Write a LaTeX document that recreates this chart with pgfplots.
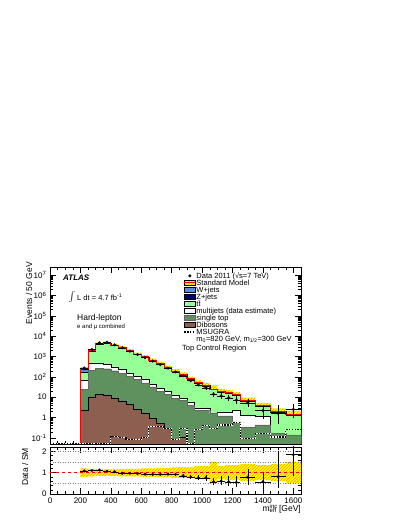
\documentclass[border=0pt]{standalone}
\usepackage{fontspec}
\setmainfont{Liberation Sans}
\usepackage{pgfplots}
\usepackage{pgfplotstable}
\pgfplotsset{compat=1.18}
\usepgfplotslibrary{fillbetween}
\usetikzlibrary{patterns}

\definecolor{wjets}{RGB}{90,140,230}
\definecolor{zjets}{RGB}{0,0,110}
\definecolor{ttbar}{RGB}{150,255,150}
\definecolor{stop}{RGB}{95,145,95}
\definecolor{dib}{RGB}{140,95,80}
\definecolor{bandy}{RGB}{255,255,0}
\definecolor{bando}{RGB}{255,160,0}

% cumulative stack tops (bin left edges), u = relative SM uncertainty
\pgfplotstableread{
x    D      S      M      T      Z      SM     u
200  0.0001 0.0001 0.0001 0.0001 0.0001 0.0001 0
200  2.3    24     69     160    165    250    0.20
250  10.5   210    455    1900   1920   2000   0.18
300  13.5   270    480    3990   4030   4200   0.15
350  12     250    410    4465   4512   4700   0.15
400  9.3    200    310    3420   3456   3600   0.15
450  6.6    150    230    2612   2640   2750   0.17
500  4.6    105    150    1795   1814   1890   0.18
550  2.5    75     110    1235   1248   1300   0.18
600  1.6    50     75     912    922    960    0.20
650  0.9    32     45     617    624    650    0.20
700  0.5    20     28     418    422    440    0.22
750  0.3    14     19     275    278    290    0.22
800  0.085  9      13     180    182    190    0.25
850  0.11   7      9      126    128    133    0.25
900  0.001  4.1    5.9    78     79     82     0.25
950  0.001  2.3    3.0    49.4   49.9   52     0.30
1000 0.001  2.3    2.8    36.1   36.5   38     0.30
1050 0.001  1.55   1.6    23.75  24     25     0.50
1100 0.001  1.2    1.9    18.5   18.7   19.5   0.30
1150 0.001  1.2    1.9    15.5   15.6   16.3   0.35
1200 0.001  0.62   2.3    12.35  12.5   13     0.35
1250 0.001  0.35   1.3    6.37   6.43   6.7    0.40
1350 0.001  0.43   1.1    3.7    3.74   3.9    0.35
1450 0.001  0.17   0.17   1.9    1.92   2      0.40
1550 0.001  0.14   0.14   1.33   1.34   1.4    0.50
1650 0.001  0.14   0.14   1.33   1.34   1.4    0.50
1650 0.0001 0.0001 0.0001 0.0001 0.0001 0.0001 0
}\stack

\pgfplotstableread{
x    m
0    0.0505
200  0.0505
250  0.0505
300  0.0505
350  0.0505
400  0.12
450  0.10
500  0.08
550  0.08
600  0.10
650  0.35
700  0.35
750  0.30
800  0.08
850  0.30
900  0.0505
950  0.25
1000 0.40
1050 0.30
1100 0.43
1150 0.43
1200 0.57
1250 0.095
1350 0.16
1450 0.11
1550 0.25
1650 0.25
}\msugra

\pgfplotstableread{
x    ex  y     eyp   eym
225  25  270   16    16
275  25  2200  47    47
325  25  4700  69    69
375  25  5030  71    71
425  25  3740  61    61
475  25  2670  52    52
525  25  1830  43    43
575  25  1250  35    35
625  25  890   30    30
675  25  600   25    25
725  25  405   20    20
775  25  270   16    16
825  25  175   13    13
875  25  113   10.6  10.6
925  25  65    8     8
975  25  40    6.3   6.3
1025 25  29    5.4   5.4
1075 25  14    4.8   3.7
1125 25  11.7  4.5   3.4
1175 25  9.3   4.2   3.0
1225 25  7.2   3.8   2.7
1300 50  5.3   2.4   2.0
1400 50  2.2   1.9   1.4
1500 50  1.6   2.5   1.1
1600 50  2.5   1.9   1.5
}\data

\pgfplotstableread{
x    ex  r     eyp   eym
225  25  1.08  0.064 0.064
275  25  1.10  0.024 0.024
325  25  1.12  0.016 0.016
375  25  1.07  0.015 0.015
425  25  1.04  0.017 0.017
475  25  0.97  0.019 0.019
525  25  0.97  0.023 0.023
575  25  0.96  0.027 0.027
625  25  0.93  0.031 0.031
675  25  0.92  0.038 0.038
725  25  0.92  0.045 0.045
775  25  0.93  0.055 0.055
825  25  0.92  0.068 0.068
875  25  0.85  0.080 0.080
925  25  0.79  0.10  0.10
975  25  0.76  0.12  0.12
1025 25  0.76  0.14  0.14
1075 25  0.57  0.19  0.15
1125 25  0.60  0.23  0.17
1175 25  0.57  0.26  0.18
1225 25  0.55  0.29  0.21
1300 50  0.79  0.40  0.35
1400 50  0.57  0.45  0.37
1500 50  0.81  1.20  0.55
1600 50  1.84  1.30  1.00
}\ratio

\pgfplotsset{
  rootax/.style={
    scale only axis, width=251pt, anchor=south west,
    xmin=0, xmax=1650,
    tick align=inside,
    major tick length=6pt, minor tick length=3pt,
    every tick/.style={black, line width=0.4pt},
    axis line style={line width=0.5pt},
    tick label style={font=\fontsize{8}{9}\selectfont},
    /pgf/number format/assume math mode=true,
    /pgf/number format/1000 sep={},
    xtick={0,200,...,1600},
    minor x tick num=3,
    xtick pos=both, ytick pos=both,
  },
  hist/.style={const plot mark left, line width=0.4pt, draw=black, forget plot},
}

\begin{document}
\begin{tikzpicture}

\begin{axis}[rootax,
  at={(50pt,83pt)}, height=177pt,
  ymode=log, ymin=0.05, ymax=2.5e7, log origin=infty,
  xticklabels={},
  ytick={0.1,1,10,100,1000,10000,100000,1000000,10000000},
  yticklabels={10\textsuperscript{-1},1,10,10\textsuperscript{2},10\textsuperscript{3},10\textsuperscript{4},10\textsuperscript{5},10\textsuperscript{6},10\textsuperscript{7}},
  legend cell align=left,
  legend style={at={(0.532,0.9706)}, anchor=north west, draw=none, fill=none,
    inner sep=0pt, font=\fontsize{7.5}{8}\selectfont,
    nodes={inner sep=0.5pt, text height=5.5pt, text depth=0.5pt},
    /tikz/every even column/.append style={column sep=1.5pt}},
]
\addplot[hist, fill=wjets] table[x=x,y=SM] {\stack};
\addplot[hist, fill=zjets] table[x=x,y=Z] {\stack};
\addplot[hist, fill=ttbar] table[x=x,y=T] {\stack};
\addplot[hist, fill=white] table[x=x,y=M] {\stack};
\addplot[hist, fill=stop, draw=black!60] table[x=x,y=S] {\stack};
\addplot[hist, fill=dib] table[x=x,y=D] {\stack};

\addplot[const plot mark left, draw=none, name path=bu, forget plot] table[x=x, y expr=\thisrow{SM}*(1+\thisrow{u})] {\stack};
\addplot[const plot mark left, draw=none, name path=bl, forget plot] table[x=x, y expr=\thisrow{SM}*(1-\thisrow{u})] {\stack};
\addplot[fill=bandy, forget plot] fill between[of=bu and bl];
\addplot[pattern=north east lines, pattern color=bando, forget plot] fill between[of=bu and bl];

\addplot[const plot mark left, red, line width=1pt, forget plot] table[x=x,y=SM] {\stack};

\addplot[const plot mark left, white, line width=1.2pt, forget plot] table[x=x,y=m] {\msugra};
\addplot[const plot mark left, black, line width=1.2pt, dash pattern=on 1.4pt off 1.4pt, forget plot] table[x=x,y=m] {\msugra};

\addplot[only marks, mark=*, mark size=1.3pt, black, forget plot,
  error bars/.cd, x dir=both, x explicit, y dir=both, y explicit,
  error bar style={line width=0.5pt}, error mark=none]
  table[x=x, y=y, x error=ex, y error plus=eyp, y error minus=eym] {\data};

\addlegendimage{legend image code/.code={\fill[black] (5.5pt,0pt) circle (1.3pt);}}
\addlegendentry{Data 2011 (√s=7 TeV)}
\addlegendimage{legend image code/.code={\fill[bandy] (0pt,-2.5pt) rectangle (11pt,2.5pt);\fill[pattern=north east lines, pattern color=bando] (0pt,-2.5pt) rectangle (11pt,2.5pt);\draw[red, line width=1pt] (0pt,0pt) -- (11pt,0pt);}}
\addlegendentry{Standard Model}
\addlegendimage{legend image code/.code={\draw[fill=wjets, line width=0.4pt] (0pt,-2.5pt) rectangle (11pt,2.5pt);}}
\addlegendentry{W+jets}
\addlegendimage{legend image code/.code={\draw[fill=zjets, line width=0.4pt] (0pt,-2.5pt) rectangle (11pt,2.5pt);}}
\addlegendentry{Z+jets}
\addlegendimage{legend image code/.code={\draw[fill=ttbar, line width=0.4pt] (0pt,-2.5pt) rectangle (11pt,2.5pt);}}
\addlegendentry{t\={t}}
\addlegendimage{legend image code/.code={\draw[fill=white, line width=0.4pt] (0pt,-2.5pt) rectangle (11pt,2.5pt);}}
\addlegendentry{multijets (data estimate)}
\addlegendimage{legend image code/.code={\draw[fill=stop, draw=black!60, line width=0.4pt] (0pt,-2.5pt) rectangle (11pt,2.5pt);}}
\addlegendentry{single top}
\addlegendimage{legend image code/.code={\draw[fill=dib, line width=0.4pt] (0pt,-2.5pt) rectangle (11pt,2.5pt);}}
\addlegendentry{Dibosons}
\addlegendimage{legend image code/.code={\draw[black, line width=1.2pt, dash pattern=on 1.4pt off 1.4pt] (0pt,0pt) -- (11pt,0pt);}}
\addlegendentry{MSUGRA}
\addlegendimage{empty legend}
\addlegendentry{m\textsubscript{0}=820 GeV, m\textsubscript{1/2}=300 GeV}
\end{axis}

\begin{axis}[rootax,
  at={(50pt,33pt)}, height=47pt,
  ymin=0, ymax=2.2, ytick={0,1,2}, minor y tick num=4,
]
\addplot[draw=none, const plot mark left, name path=ru] table[x=x, y expr=1+\thisrow{u}] {\stack};
\addplot[draw=none, const plot mark left, name path=rl] table[x=x, y expr=1-\thisrow{u}] {\stack};
\addplot[fill=bandy] fill between[of=ru and rl];
\addplot[pattern=north east lines, pattern color=bando] fill between[of=ru and rl];
\addplot[gray, dotted, line width=0.5pt] coordinates {(0,0.5) (1650,0.5)};
\addplot[gray, dotted, line width=0.5pt] coordinates {(0,1.5) (1650,1.5)};
\addplot[gray, dotted, line width=0.5pt] coordinates {(0,2) (1650,2)};
\addplot[red, dashed, line width=0.5pt] coordinates {(0,1) (1650,1)};
\addplot[only marks, mark=*, mark size=1.3pt, black,
  error bars/.cd, x dir=both, x explicit, y dir=both, y explicit,
  error bar style={line width=0.5pt}, error mark=none]
  table[x=x, y=r, x error=ex, y error plus=eyp, y error minus=eym] {\ratio};
\end{axis}

% texts
\node[anchor=west, font=\fontsize{8}{9}\selectfont\bfseries\itshape, inner sep=0pt] at (63pt,249.3pt) {ATLAS};
\node[anchor=east, font=\fontsize{15}{16}\selectfont, inner sep=0pt] at (75.5pt,229.5pt) {$\int$};
\node[anchor=west, font=\fontsize{7.5}{8}\selectfont, inner sep=0pt] at (77pt,229.3pt) {L dt = 4.7 fb\textsuperscript{-1}};
\node[anchor=west, font=\fontsize{8.5}{9}\selectfont, inner sep=0pt] at (77pt,209pt) {Hard-lepton};
\node[anchor=west, font=\fontsize{6}{7}\selectfont, inner sep=0pt] at (77pt,200.3pt) {e and μ combined};
\node[anchor=west, font=\fontsize{7.5}{8}\selectfont, inner sep=0pt] at (182pt,178.7pt) {Top Control Region};

\node[rotate=90, anchor=east, font=\fontsize{8.5}{9}\selectfont, inner sep=0pt] at (29pt,265pt) {Events / 50 GeV};
\node[rotate=90, anchor=east, font=\fontsize{8.5}{9}\selectfont, inner sep=0pt] at (25pt,79pt) {Data / SM};
\node[anchor=east, font=\fontsize{8.5}{9}\selectfont, inner sep=0pt] at (301pt,18.5pt) {m\rlap{\textsuperscript{inc}}\textsubscript{eff} [GeV]};

\path (0pt,0pt) rectangle (407pt,527pt);
\end{tikzpicture}
\end{document}
